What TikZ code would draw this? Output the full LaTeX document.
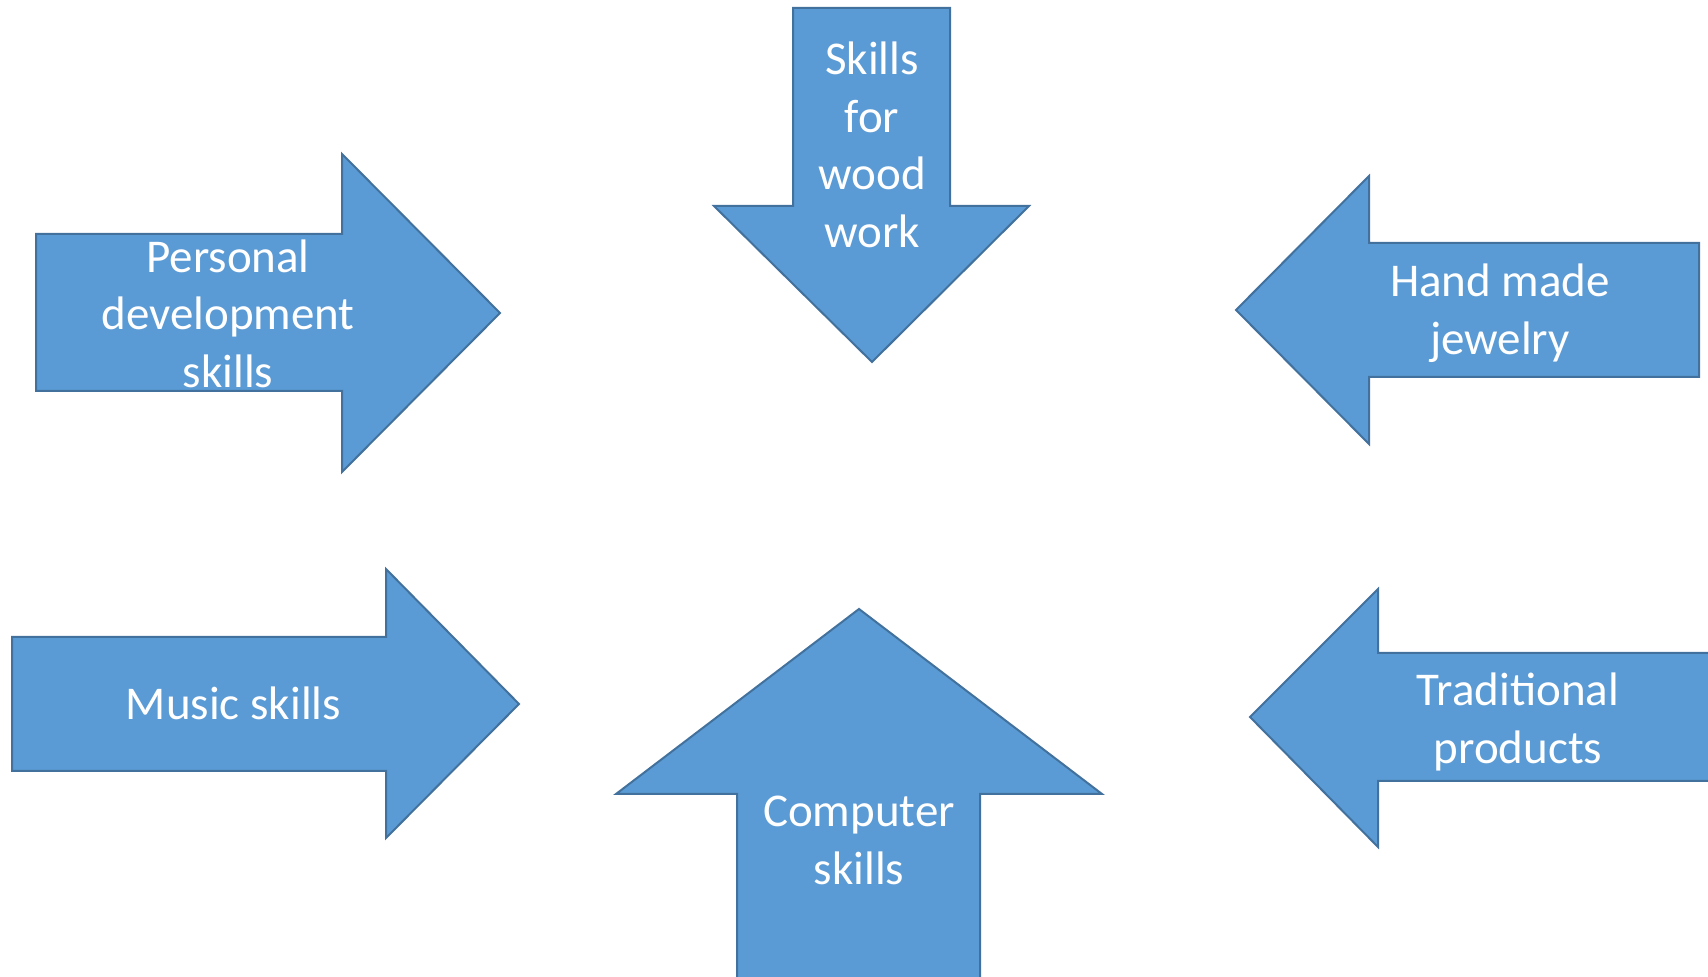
\documentclass[tikz,border=0pt]{standalone}
\usepackage{fontspec}
\setmainfont{Carlito}
\usepackage{xcolor}
\usepackage{tikz}
\definecolor{ArrowBlue}{HTML}{5B9BD5}
\definecolor{ArrowEdge}{HTML}{41719C}

\begin{document}
\begin{tikzpicture}[x=0.5pt, y=-0.5pt, every node/.style={font=\fontsize{23.5}{28.75}\selectfont}]
  \tikzstyle{block}=[fill=ArrowBlue, draw=ArrowEdge, line width=1pt, line join=miter]
  \tikzstyle{label}=[text=white, align=center, inner sep=0pt]

  \clip (0,0) rectangle (1708,977);

  % arrows pointing right
  \draw[block] (36,234) -- (342,234) -- (342,154) -- (500,313) -- (342,472) -- (342,391) -- (36,391) -- cycle;
  \draw[block] (12,637) -- (386,637) -- (386,569) -- (519,704) -- (386,838) -- (386,771) -- (12,771) -- cycle;

  % arrows pointing left
  \draw[block] (1699,243) -- (1369,243) -- (1369,176) -- (1236,310) -- (1369,444) -- (1369,377) -- (1699,377) -- cycle;
  \draw[block] (1720,653) -- (1378,653) -- (1378,589) -- (1250,717) -- (1378,847) -- (1378,781) -- (1720,781) -- cycle;

  % down and up
  \draw[block] (793,8) -- (950,8) -- (950,206) -- (1029,206) -- (872,362) -- (714,206) -- (793,206) -- cycle;
  \draw[block] (737,990) -- (737,794) -- (616,794) -- (859,609) -- (1102,794) -- (980,794) -- (980,990) -- cycle;

  \node[label] (personal) at (228,313.5) {Personal\\development\\skills};
  \node[label] (music) at (233.5,703.7) {Music skills};
  \node[label] (jewelry) at (1500,313.4) {Hand made\\jewelry};
  \node[label] (traditional) at (1518,721.9) {Traditional\\products};
  \node[label] (wood) at (872,144.7) {Skills\\for\\wood\\work};
  \node[label] (computer) at (859,840.6) {Computer\\skills};
\end{tikzpicture}
\end{document}
